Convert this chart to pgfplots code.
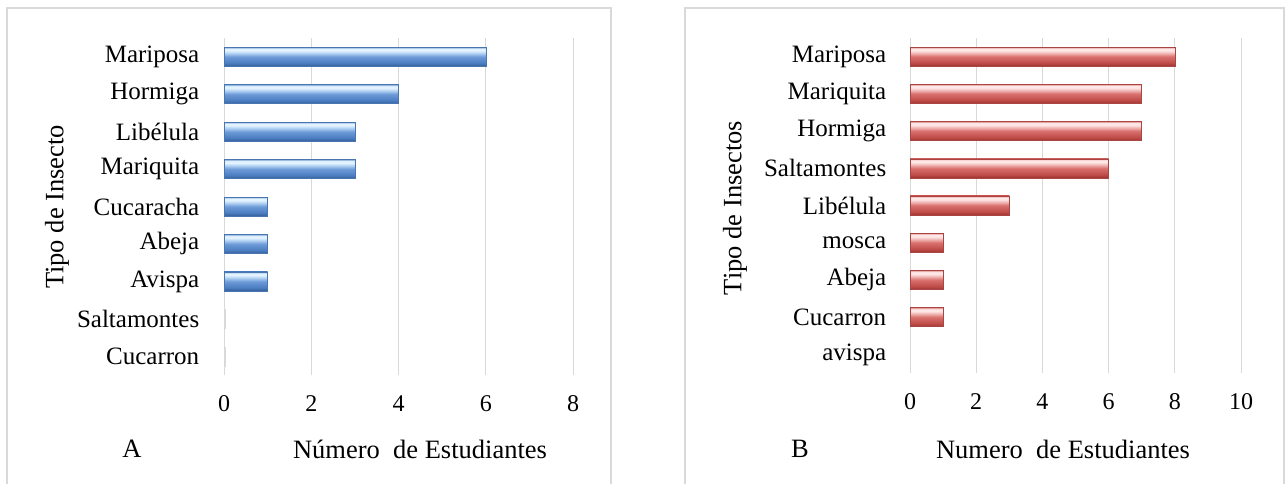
\documentclass[border=0pt]{standalone}
\usepackage{fontspec}
\setmainfont{Liberation Serif}
\usepackage{pgfplots}
\pgfplotsset{compat=1.18}

\definecolor{gridgray}{HTML}{D9D9D9}
\definecolor{frame}{HTML}{D9D9D9}
\definecolor{bA}{HTML}{335D97}
\definecolor{bB}{HTML}{4A7CC0}
\definecolor{bC}{HTML}{6E9BD8}
\definecolor{bD}{HTML}{B7D5F4}
\definecolor{bE}{HTML}{E2F2FF}
\definecolor{bF}{HTML}{7FA6D8}
\definecolor{blueEdge}{HTML}{4A76B0}
\definecolor{rA}{HTML}{9E3431}
\definecolor{rB}{HTML}{BE4B48}
\definecolor{rC}{HTML}{D9706D}
\definecolor{rD}{HTML}{F2BDBB}
\definecolor{rE}{HTML}{FDE8E7}
\definecolor{rF}{HTML}{DE8C89}
\definecolor{redEdge}{HTML}{A94643}

% vertical shadings, bottom to top: 25bp = bottom edge of a bar, 75bp = top edge
\pgfdeclareverticalshading{barblue}{100bp}{color(0bp)=(bA); color(25bp)=(bA);
  color(33bp)=(bB); color(50bp)=(bC); color(60bp)=(bD); color(66bp)=(bE);
  color(71bp)=(bE); color(75bp)=(bF); color(100bp)=(bF)}
\pgfdeclareverticalshading{barred}{100bp}{color(0bp)=(rA); color(25bp)=(rA);
  color(33bp)=(rB); color(50bp)=(rC); color(60bp)=(rD); color(66bp)=(rE);
  color(71bp)=(rE); color(75bp)=(rF); color(100bp)=(rF)}

\pgfplotsset{
  panel/.style={
    xbar, bar width=19bp, bar shift=0pt,
    scale only axis, anchor=south west,
    ymin=-0.5, ymax=8.5, xmin=0,
    ytick={0,...,8},
    axis line style={draw=none},
    tick style={draw=none},
    xmajorgrids, major grid style={gridgray, line width=0.8bp},
    /pgf/number format/assume math mode=true,
    yticklabel style={font=\fontsize{25bp}{29bp}\selectfont},
    xticklabel style={font=\fontsize{24bp}{28bp}\selectfont, anchor=center, yshift=-29bp},
    clip=false,
  },
  bluebar/.style={draw=blueEdge, line width=0.5bp, shade, shading=barblue},
  redbar/.style={draw=redEdge, line width=0.5bp, shade, shading=barred},
}

\begin{document}
\begin{tikzpicture}
\path[use as bounding box] (0,0) rectangle (1286bp,484bp);
\fill[white] (0,0) rectangle (1286bp,484bp);
% panel frames
\draw[frame, line width=1.5bp] (7bp,-10bp) -- (7bp,476bp) -- (611bp,476bp) -- (611bp,-10bp);
\draw[frame, line width=1.5bp] (685bp,-10bp) -- (685bp,476bp) -- (1284bp,476bp) -- (1284bp,-10bp);

% Panel A
\begin{axis}[panel,
  at={(224bp,109bp)}, width=349bp, height=337bp,
  xmax=8, xtick={0,2,4,6,8},
  yticklabels={Cucarron, Saltamontes, Avispa, Abeja, Cucaracha, Mariquita, Libélula, Hormiga, Mariposa},
  yticklabel style={anchor=east, xshift=-17bp},
]
\addplot[bluebar] coordinates {(6,8)};
\addplot[bluebar] coordinates {(4,7)};
\addplot[bluebar] coordinates {(3,6)};
\addplot[bluebar] coordinates {(3,5)};
\addplot[bluebar] coordinates {(1,4)};
\addplot[bluebar] coordinates {(1,3)};
\addplot[bluebar] coordinates {(1,2)};
\addplot[draw=gridgray, fill=white] coordinates {(0.02,1)};
\addplot[draw=gridgray, fill=white] coordinates {(0.02,0)};
\end{axis}

% Panel B
\begin{axis}[panel,
  at={(910bp,111bp)}, width=331bp, height=335bp,
  xmax=10, xtick={0,2,4,6,8,10},
  yticklabels={avispa, Cucarron, Abeja, mosca, Libélula, Saltamontes, Hormiga, Mariquita, Mariposa},
  yticklabel style={anchor=east, xshift=-16bp},
]
\addplot[redbar] coordinates {(8,8)};
\addplot[redbar] coordinates {(7,7)};
\addplot[redbar] coordinates {(7,6)};
\addplot[redbar] coordinates {(6,5)};
\addplot[redbar] coordinates {(3,4)};
\addplot[redbar] coordinates {(1,3)};
\addplot[redbar] coordinates {(1,2)};
\addplot[redbar] coordinates {(1,1)};
\addplot[draw=gridgray, fill=white] coordinates {(0.02,0)};
\end{axis}

% labels
\begin{scope}[every node/.style={font=\fontsize{26.5bp}{30bp}\selectfont}]
\node[rotate=90] at (57bp,277bp) {Tipo de Insecto};
\node at (132bp,35bp) {A};
\node at (420bp,35bp) {Número\ \ de Estudiantes};
\node[rotate=90] at (735bp,276bp) {Tipo de Insectos};
\node at (800bp,35bp) {B};
\node at (1063bp,35bp) {Numero\ \ de Estudiantes};
\end{scope}
\end{tikzpicture}
\end{document}
